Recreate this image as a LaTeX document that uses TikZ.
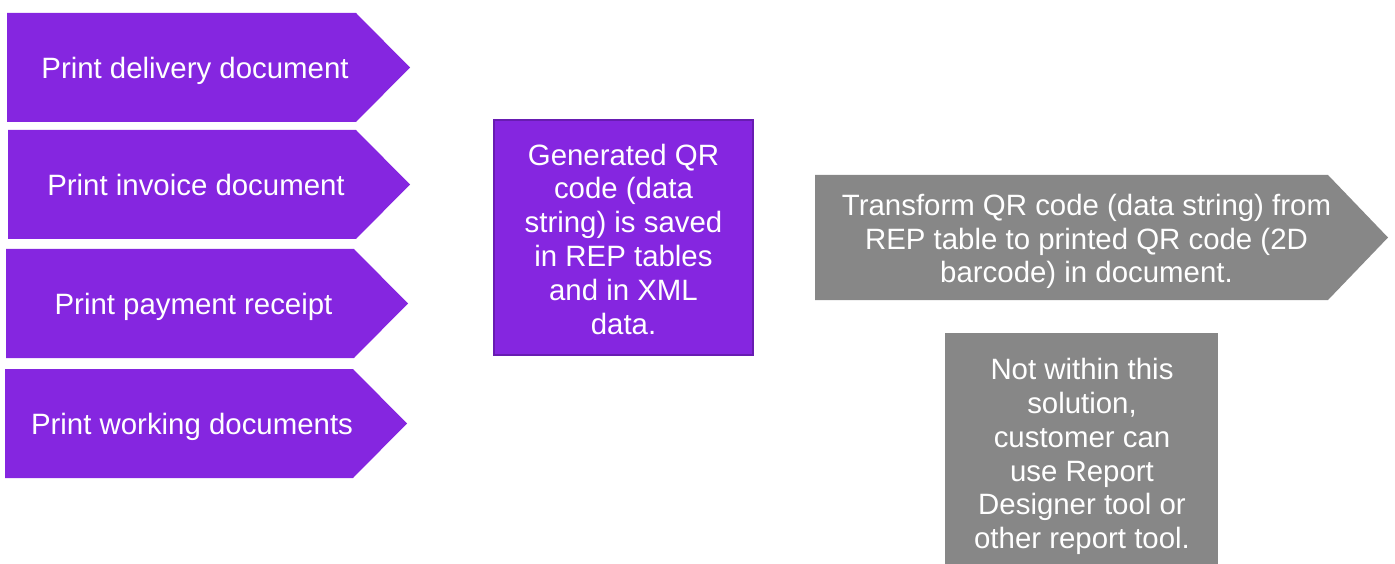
\documentclass[tikz,border=0pt]{standalone}
\usepackage{fontspec}
\setmainfont{Liberation Sans}
\usepackage{tikz}
\definecolor{qrpurple}{RGB}{133,38,224}
\definecolor{qrpurpleedge}{RGB}{104,28,178}
\definecolor{qrgrey}{RGB}{135,135,135}

\begin{document}
\begin{tikzpicture}[x=1pt,y=-1pt,
  lbl/.style={text=white,align=center,inner sep=0pt,font=\fontsize{29.4}{33.8}\selectfont}]
\useasboundingbox (0,0) rectangle (1395,564);
\clip (0,0) rectangle (1395,564);
% print steps
\fill[qrpurple] (7,13) -- (356,13) -- (410,67.5) -- (356,122) -- (7,122) -- cycle;
\node[lbl,anchor=base] (pdelivery) at (195,79) {Print delivery document};
\fill[qrpurple] (8,130) -- (356,130) -- (410,184.5) -- (356,239) -- (8,239) -- cycle;
\node[lbl,anchor=base] (pinvoice) at (196,195.5) {Print invoice document};
\fill[qrpurple] (6,249) -- (354,249) -- (408,303.5) -- (354,358) -- (6,358) -- cycle;
\node[lbl,anchor=base] (preceipt) at (193.5,314.5) {Print payment receipt};
\fill[qrpurple] (5,369) -- (353,369) -- (407,423.5) -- (353,478) -- (5,478) -- cycle;
\node[lbl,anchor=base] (pworking) at (192,434.5) {Print working documents};
% saved QR string
\filldraw[fill=qrpurple,draw=qrpurpleedge,line width=2pt] (494,120) rectangle (753,355);
\node[lbl] (saved) at (623.5,239) {Generated QR\\code (data\\string) is saved\\in REP tables\\and in XML\\data.};
% transform step
\fill[qrgrey] (815,175) -- (1328,175) -- (1388,237.5) -- (1328,300) -- (815,300) -- cycle;
\node[lbl] (transform) at (1086.5,241.5) {Transform QR code (data string) from\\REP table to printed QR code (2D\\barcode) in document.};
\fill[qrgrey] (945,333) rectangle (1218,570);
\node[lbl] (outside) at (1082,456.5) {Not within this\\solution,\\customer can\\use Report\\Designer tool or\\other report tool.};
\end{tikzpicture}
\end{document}
